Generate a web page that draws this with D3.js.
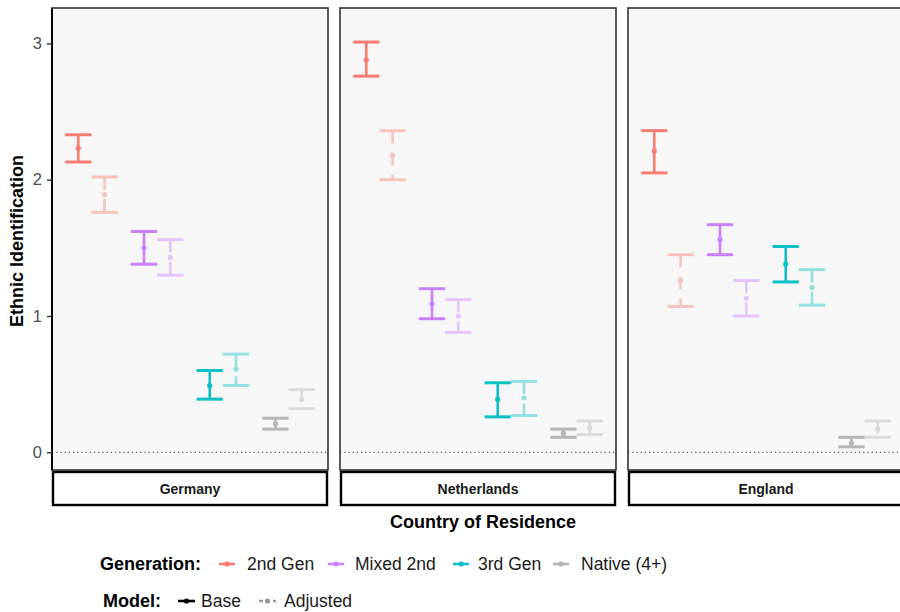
<!DOCTYPE html>
<html>
<head>
<meta charset="utf-8">
<script src="https://cdn.jsdelivr.net/npm/d3@7"></script>
<style>
  html, body { margin: 0; padding: 0; background: #ffffff; }
  svg { display: block; font-family: "Liberation Sans", Arial, Helvetica, sans-serif; }
</style>
</head>
<body>
<svg id="chart" width="900" height="612"></svg>
<script>
// Facets, groups and models
const countries = ["Germany", "Netherlands", "England"];
const generations = ["2nd Gen", "Mixed 2nd", "3rd Gen", "Native (4+)"];
const models = ["Base", "Adjusted"];
const yTicks = [0, 1, 2, 3];

// Estimates and 95% intervals, one row per country, one column per generation
const baseMean = [
  [2.23, 1.50, 0.49, 0.21],
  [2.88, 1.09, 0.39, 0.14],
  [2.21, 1.56, 1.38, 0.07]
];
const baseLow = [
  [2.13, 1.38, 0.39, 0.17],
  [2.76, 0.98, 0.26, 0.11],
  [2.05, 1.45, 1.25, 0.04]
];
const baseHigh = [
  [2.33, 1.62, 0.60, 0.25],
  [3.01, 1.20, 0.51, 0.17],
  [2.36, 1.67, 1.51, 0.11]
];
const adjMean = [
  [1.89, 1.43, 0.61, 0.39],
  [2.18, 1.00, 0.40, 0.18],
  [1.26, 1.13, 1.21, 0.17]
];
const adjLow = [
  [1.76, 1.30, 0.49, 0.32],
  [2.00, 0.88, 0.27, 0.13],
  [1.07, 1.00, 1.08, 0.11]
];
const adjHigh = [
  [2.02, 1.56, 0.72, 0.46],
  [2.36, 1.12, 0.52, 0.23],
  [1.45, 1.26, 1.34, 0.23]
];

const genColors = ["#F8766D", "#C77CFF", "#00BFC4", "#B3B3B3"];

// Flatten into one row per drawn interval
const rows = [];
countries.forEach((c, ci) => {
  generations.forEach((g, gi) => {
    rows.push({ country: c, gen: g, model: "Base", mean: baseMean[ci][gi], lo: baseLow[ci][gi], hi: baseHigh[ci][gi] });
    rows.push({ country: c, gen: g, model: "Adjusted", mean: adjMean[ci][gi], lo: adjLow[ci][gi], hi: adjHigh[ci][gi] });
  });
});

const svg = d3.select("#chart");

// Layout
const panelLeft = 52, panelTop = 8, panelW = 276, panelH = 462, panelGap = 12;
const stripTop = 472, stripH = 33;

const color = d3.scaleOrdinal().domain(generations).range(genColors);
const opacity = d3.scaleOrdinal().domain(models).range([0.95, 0.4]);
const y = d3.scaleLinear().domain([-0.13, 3.26]).range([panelTop + panelH, panelTop]);
const x = d3.scalePoint().domain(generations).range([0, panelW]).padding(0.6);
const step = x.step();
const dodge = d3.scaleOrdinal().domain(models).range([-0.2 * step, 0.2 * step]);
const capHalf = 0.2 * step;

countries.forEach((c, ci) => {
  const px = panelLeft + ci * (panelW + panelGap);
  const g = svg.append("g").attr("transform", `translate(${px},0)`);

  // panel background
  g.append("rect")
    .attr("x", 0).attr("y", panelTop).attr("width", panelW).attr("height", panelH)
    .attr("fill", "#F7F7F7");

  // reference line at zero
  g.append("line")
    .attr("x1", 0).attr("x2", panelW)
    .attr("y1", y(0)).attr("y2", y(0))
    .attr("stroke", "#333").attr("stroke-width", 1)
    .attr("stroke-dasharray", "1.2 3");

  const data = rows.filter(r => r.country === c);
  const bars = g.selectAll("g.bar").data(data).join("g").attr("class", "bar")
    .attr("transform", d => `translate(${x(d.gen) + dodge(d.model)},0)`)
    .attr("stroke", d => color(d.gen))
    .attr("fill", d => color(d.gen))
    .attr("opacity", d => opacity(d.model));

  // caps
  bars.append("line")
    .attr("x1", -capHalf).attr("x2", capHalf)
    .attr("y1", d => y(d.hi)).attr("y2", d => y(d.hi))
    .attr("stroke-width", 3);
  bars.append("line")
    .attr("x1", -capHalf).attr("x2", capHalf)
    .attr("y1", d => y(d.lo)).attr("y2", d => y(d.lo))
    .attr("stroke-width", 3);
  // whisker
  bars.append("line")
    .attr("x1", 0).attr("x2", 0)
    .attr("y1", d => y(d.hi)).attr("y2", d => y(d.lo))
    .attr("stroke-width", 2.6)
    .attr("stroke-dasharray", d => d.model === "Adjusted" ? "12.5 9.5" : null);
  // point estimate
  bars.append("circle")
    .attr("cx", 0).attr("cy", d => y(d.mean)).attr("r", 2.6)
    .attr("stroke", "none");

  // panel border
  g.append("rect")
    .attr("x", 0).attr("y", panelTop).attr("width", panelW).attr("height", panelH)
    .attr("fill", "none").attr("stroke", "#333").attr("stroke-width", 1.6);

  // strip
  g.append("rect")
    .attr("x", 1).attr("y", stripTop).attr("width", panelW - 2).attr("height", stripH)
    .attr("fill", "#ffffff").attr("stroke", "#000").attr("stroke-width", 2.4);
  g.append("text")
    .attr("x", panelW / 2).attr("y", stripTop + stripH / 2 + 5)
    .attr("text-anchor", "middle")
    .attr("font-size", 14).attr("font-weight", "bold").attr("fill", "#1a1a1a")
    .text(c);
});

// y axis
const yAxis = d3.axisLeft(y).tickValues(yTicks).tickSize(5).tickPadding(5).tickFormat(d3.format("d"));
const ya = svg.append("g").attr("transform", `translate(${panelLeft},0)`).call(yAxis);
ya.select(".domain").attr("d", `M0,${panelTop}V${panelTop + panelH}`).attr("stroke", "#000").attr("stroke-width", 2);
ya.selectAll(".tick line").attr("stroke", "#333").attr("stroke-width", 1.4);
ya.selectAll(".tick text").attr("font-size", 16.5).attr("fill", "#4D4D4D")
  .attr("font-family", "Liberation Sans, Arial, sans-serif");

// axis titles
svg.append("text")
  .attr("transform", `translate(23,${panelTop + panelH / 2 + 2}) rotate(-90)`)
  .attr("text-anchor", "middle")
  .attr("font-size", 18).attr("font-weight", "bold").attr("fill", "#000")
  .text("Ethnic Identification");
svg.append("text")
  .attr("x", 483).attr("y", 528)
  .attr("text-anchor", "middle")
  .attr("font-size", 18).attr("font-weight", "bold").attr("fill", "#000")
  .text("Country of Residence");

// legend: generation
const leg1 = svg.append("g");
leg1.append("text").attr("x", 100).attr("y", 570)
  .attr("font-size", 18).attr("font-weight", "bold").attr("fill", "#000")
  .text("Generation:");
const genKeyX = [219, 328, 453, 553];
const genTextX = [247, 355, 478, 581];
generations.forEach((gname, i) => {
  leg1.append("line").attr("x1", genKeyX[i]).attr("x2", genKeyX[i] + 16)
    .attr("y1", 564).attr("y2", 564)
    .attr("stroke", color(gname)).attr("stroke-width", 2.6).attr("opacity", 0.95);
  leg1.append("circle").attr("cx", genKeyX[i] + 8).attr("cy", 564).attr("r", 2.6)
    .attr("fill", color(gname)).attr("opacity", 0.95);
  leg1.append("text").attr("x", genTextX[i]).attr("y", 570)
    .attr("font-size", 17.5).attr("fill", "#1a1a1a").text(gname);
});

// legend: model
const leg2 = svg.append("g");
leg2.append("text").attr("x", 103).attr("y", 607)
  .attr("font-size", 18).attr("font-weight", "bold").attr("fill", "#000")
  .text("Model:");
const modelKeyX = [178, 259];
const modelTextX = [201, 284];
const modelKeyColor = ["#000000", "#999999"];
models.forEach((m, i) => {
  leg2.append("line").attr("x1", modelKeyX[i]).attr("x2", modelKeyX[i] + 17)
    .attr("y1", 601).attr("y2", 601)
    .attr("stroke", modelKeyColor[i]).attr("stroke-width", 2.6)
    .attr("stroke-dasharray", i === 1 ? "4 3" : null);
  leg2.append("circle").attr("cx", modelKeyX[i] + 8.5).attr("cy", 601).attr("r", 2.6)
    .attr("fill", modelKeyColor[i]);
  leg2.append("text").attr("x", modelTextX[i]).attr("y", 607)
    .attr("font-size", 17.5).attr("fill", "#1a1a1a").text(m);
});
</script>
</body>
</html>
